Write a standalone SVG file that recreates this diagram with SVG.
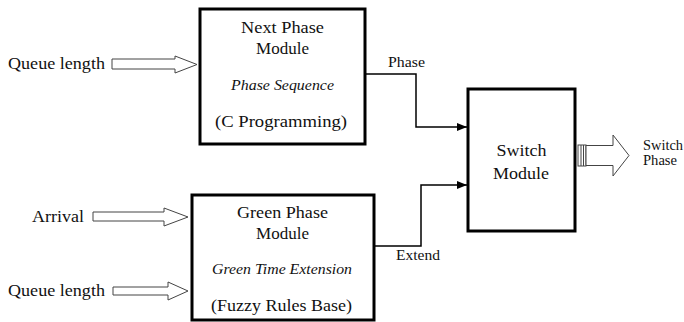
<svg xmlns="http://www.w3.org/2000/svg" width="684" height="322" viewBox="0 0 684 322">
<style>
text{fill:#111}
.big{font-size:17px}
.it{font-size:14.5px;font-style:italic}
.sm{font-size:14px}
.box{fill:#fff;stroke:#000;stroke-width:3}
.hol{fill:#fff;stroke:#444;stroke-width:1}
.con{fill:none;stroke:#000;stroke-width:1.5}
</style>
<defs>
<marker id="ah" markerWidth="10" markerHeight="8" refX="10" refY="4" orient="auto" markerUnits="userSpaceOnUse">
<path d="M0,0 L10,4 L0,8 Z" fill="#000"/>
</marker>
</defs>
<rect width="684" height="322" fill="#fff"/>

<g id="in-queue1">
<text class="big" font-family="Liberation Serif" x="8" y="69" textLength="97" lengthAdjust="spacingAndGlyphs">Queue length</text>
<path class="hol" d="M112,59 H175 V56 L197,64.5 L175,73 V69 H112 Z"/>
</g>
<g id="in-arrival">
<text class="big" font-family="Liberation Serif" x="32" y="222" textLength="52" lengthAdjust="spacingAndGlyphs">Arrival</text>
<path class="hol" d="M93,212 H164 V208 L188,217 L164,226 V221 H93 Z"/>
</g>
<g id="in-queue2">
<text class="big" font-family="Liberation Serif" x="8" y="296" textLength="97" lengthAdjust="spacingAndGlyphs">Queue length</text>
<path class="hol" d="M113,287 H168 V282 L188,291 L168,300 V295 H113 Z"/>
</g>

<g id="next-phase">
<rect class="box" x="200" y="9" width="165" height="135"/>
<text class="big" font-family="Liberation Serif" x="282.5" y="33" text-anchor="middle" textLength="83" lengthAdjust="spacingAndGlyphs">Next Phase</text>
<text class="big" font-family="Liberation Serif" x="282.5" y="54" text-anchor="middle">Module</text>
<text class="it" font-family="Liberation Serif" x="282.5" y="90" text-anchor="middle" textLength="103" lengthAdjust="spacingAndGlyphs">Phase Sequence</text>
<text class="big" font-family="Liberation Serif" x="281" y="127" text-anchor="middle" textLength="132" lengthAdjust="spacingAndGlyphs">(C Programming)</text>
</g>

<g id="green-phase">
<rect class="box" x="192" y="195" width="182" height="125"/>
<text class="big" font-family="Liberation Serif" x="282.5" y="218" text-anchor="middle" textLength="91" lengthAdjust="spacingAndGlyphs">Green Phase</text>
<text class="big" font-family="Liberation Serif" x="282.5" y="239" text-anchor="middle">Module</text>
<text class="it" font-family="Liberation Serif" x="282" y="274" text-anchor="middle" textLength="140" lengthAdjust="spacingAndGlyphs">Green Time Extension</text>
<text class="big" font-family="Liberation Serif" x="281.5" y="311" text-anchor="middle" textLength="141" lengthAdjust="spacingAndGlyphs">(Fuzzy Rules Base)</text>
</g>

<g id="switch-module">
<rect class="box" x="468" y="89" width="107" height="142"/>
<text class="big" font-family="Liberation Serif" x="521.5" y="156" text-anchor="middle" textLength="50" lengthAdjust="spacingAndGlyphs">Switch</text>
<text class="big" font-family="Liberation Serif" x="521" y="179" text-anchor="middle" textLength="56" lengthAdjust="spacingAndGlyphs">Module</text>
</g>

<g id="out-switch-phase">
<rect x="578" y="145" width="8" height="21" fill="#fff" stroke="#444" stroke-width="1"/>
<line x1="581" y1="145" x2="581" y2="166" stroke="#444" stroke-width="1"/>
<line x1="583.5" y1="145" x2="583.5" y2="166" stroke="#444" stroke-width="1"/>
<path class="hol" d="M586,145.5 H613 V135 L629,155.5 L613,176 V165.5 H586 Z"/>
<text class="sm" font-family="Liberation Serif" x="643" y="150" textLength="40" lengthAdjust="spacingAndGlyphs">Switch</text>
<text class="sm" font-family="Liberation Serif" x="643" y="165" textLength="34" lengthAdjust="spacingAndGlyphs">Phase</text>
</g>

<g id="connectors">
<polyline class="con" points="366,74 416,74 416,127 467,127" marker-end="url(#ah)"/>
<polyline class="con" points="375,246 421,246 421,185 467,185" marker-end="url(#ah)"/>
<text class="sm" font-family="Liberation Serif" x="388" y="67" textLength="37" lengthAdjust="spacingAndGlyphs">Phase</text>
<text class="sm" font-family="Liberation Serif" x="396" y="260" textLength="44" lengthAdjust="spacingAndGlyphs">Extend</text>
</g>
</svg>
